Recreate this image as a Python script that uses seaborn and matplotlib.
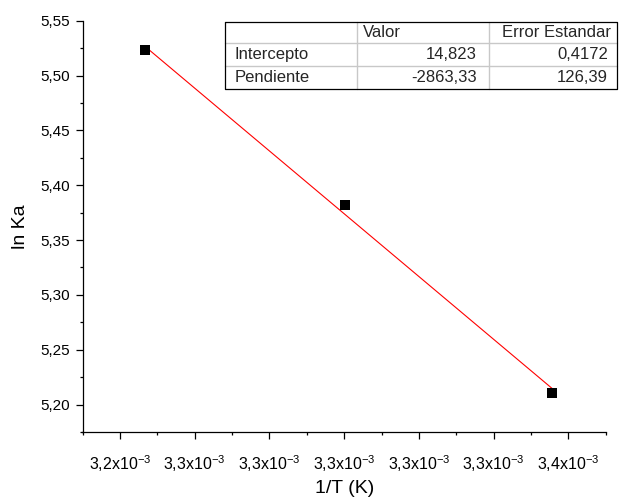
import numpy as np
import pandas as pd
import matplotlib
matplotlib.use("Agg")
import matplotlib.pyplot as plt
from matplotlib.lines import Line2D
from matplotlib.ticker import FixedLocator, MultipleLocator, FuncFormatter
import seaborn as sns

# ---- data ----
inv_T = [3.24675e-3, 3.30033e-3, 3.35570e-3]
ln_Ka = [5.523, 5.382, 5.211]
intercept = 14.823
slope = -2863.33
table_cols = ["", "Valor", "Error Estandar"]
table_rows = ["Intercepto", "Pendiente"]
table_valor = ["14,823", "-2863,33"]
table_err = ["0,4172", "126,39"]
x_tick_vals = [3.24e-3, 3.26e-3, 3.28e-3, 3.30e-3, 3.32e-3, 3.34e-3, 3.36e-3]
x_tick_labels = ["3,2x10$^{-3}$", "3,3x10$^{-3}$", "3,3x10$^{-3}$", "3,3x10$^{-3}$",
                 "3,3x10$^{-3}$", "3,3x10$^{-3}$", "3,4x10$^{-3}$"]
y_tick_vals = [5.20, 5.25, 5.30, 5.35, 5.40, 5.45, 5.50, 5.55]

sns.set_theme(style="ticks")
plt.rcParams["font.family"] = ["Liberation Sans", "DejaVu Sans"]
plt.rcParams["mathtext.fontset"] = "custom"
plt.rcParams["mathtext.rm"] = "Liberation Sans"
plt.rcParams["mathtext.default"] = "regular"

W, H = 619, 497
fig = plt.figure(figsize=(W / 100, H / 100), dpi=100)

def fx(x):
    return x / W

def fy(y):
    return 1 - y / H

ax_l, ax_r, ax_t, ax_b = 82.5, 605.8, 20.7, 432.0
ax = fig.add_axes([fx(ax_l), fy(ax_b), fx(ax_r) - fx(ax_l), fy(ax_t) - fy(ax_b)])

df = pd.DataFrame({"x": inv_T, "y": ln_Ka})
fit_x = np.array([inv_T[0], inv_T[-1]])
fit_df = pd.DataFrame({"x": fit_x, "y": intercept + slope * fit_x})

sns.lineplot(data=fit_df, x="x", y="y", color="red", linewidth=0.8, ax=ax, zorder=2)
sns.scatterplot(data=df, x="x", y="y", marker="s", color="black", s=48,
                edgecolor="black", linewidth=0, ax=ax, zorder=3)

ax.set_xlim(3.23e-3, 3.37e-3)
ax.set_ylim(5.175, 5.55)
ax.xaxis.set_major_locator(FixedLocator(x_tick_vals))
ax.set_xticklabels(x_tick_labels)
ax.xaxis.set_minor_locator(MultipleLocator(0.01e-3))
ax.yaxis.set_major_locator(FixedLocator(y_tick_vals))
ax.yaxis.set_major_formatter(FuncFormatter(lambda v, p: f"{v:.2f}".replace(".", ",")))
ax.yaxis.set_minor_locator(MultipleLocator(0.025))

for s in ["top", "right"]:
    ax.spines[s].set_visible(False)
for s in ["left", "bottom"]:
    ax.spines[s].set_color("black")
    ax.spines[s].set_linewidth(0.9)

ax.tick_params(axis="both", which="major", length=5, width=0.9, color="black",
               labelcolor="black", direction="out")
ax.tick_params(axis="both", which="minor", length=2.5, width=0.9, color="black", direction="out")
ax.tick_params(axis="y", which="major", pad=4, labelsize=11)
ax.tick_params(axis="x", which="major", pad=10, labelsize=11.5)

ax.set_xlabel("1/T (K)", fontsize=14, color="black", labelpad=5)
ax.set_ylabel("ln Ka", fontsize=14, color="black", labelpad=8)
ax.grid(False)

# ---- table ----
tl, tr, tt, tb = 225, 617, 21.7, 89.3
vlines = [356.7, 488.7]
hlines = [43.3, 66.0]
for xv in vlines:
    fig.add_artist(Line2D([fx(xv), fx(xv)], [fy(tt), fy(tb)], color="#c8c8c8", lw=1.0))
for yh in hlines:
    fig.add_artist(Line2D([fx(tl), fx(tr)], [fy(yh), fy(yh)], color="#c8c8c8", lw=1.0))
fig.add_artist(Line2D([fx(tl), fx(tr), fx(tr), fx(tl), fx(tl)],
                      [fy(tt), fy(tt), fy(tb), fy(tb), fy(tt)], color="black", lw=0.9))

row_y = [32.5, 54.7, 77.7]
tfs = 12
fig.text(fx(363), fy(row_y[0]), table_cols[1], fontsize=tfs, va="center", ha="left")
fig.text(fx(501.7), fy(row_y[0]), table_cols[2], fontsize=tfs, va="center", ha="left")
for i in range(len(table_rows)):
    fig.text(fx(235), fy(row_y[i + 1]), table_rows[i], fontsize=tfs, va="center", ha="left")
    fig.text(fx(476.7), fy(row_y[i + 1]), table_valor[i], fontsize=tfs, va="center", ha="right")
    fig.text(fx(608), fy(row_y[i + 1]), table_err[i], fontsize=tfs, va="center", ha="right")

fig.savefig("out.png", dpi=100, facecolor="white")
